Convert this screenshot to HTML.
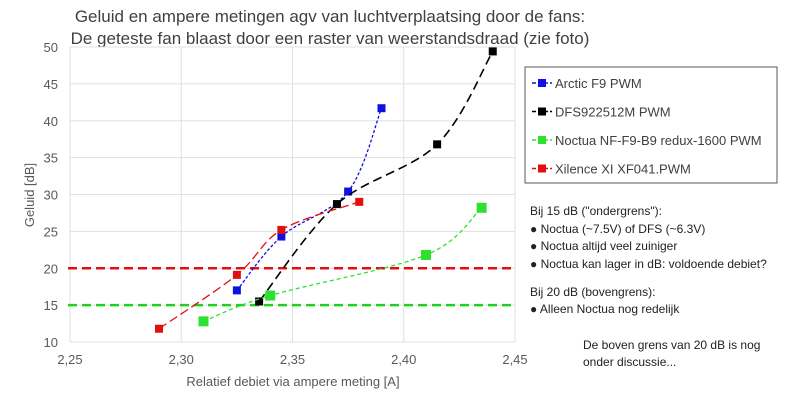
<!DOCTYPE html>
<html><head><meta charset="utf-8"><style>
body{margin:0;background:#fff;font-family:"Liberation Sans",sans-serif;}
svg{display:block}
text{font-family:"Liberation Sans",sans-serif;}
</style></head><body>
<svg id="chart" width="800" height="402" viewBox="0 0 800 402">
<g fill="#404040" font-size="17" text-anchor="middle">
<text x="330" y="22">Geluid en ampere metingen agv van luchtverplaatsing door de fans:</text>
<text x="330" y="44">De geteste fan blaast door een  raster van weerstandsdraad  (zie foto)</text>
</g>
<g id="grid"></g>
<g id="axes"></g>
<g id="series"></g>
<text transform="translate(34,195) rotate(-90)" text-anchor="middle" font-size="13" fill="#595959">Geluid [dB]</text>
<text x="293" y="386" text-anchor="middle" font-size="13" fill="#595959">Relatief debiet via ampere meting [A]</text>
<g>
<rect x="525" y="67" width="252" height="116" fill="#fff" stroke="#595959" stroke-width="1"/>
<g id="legend-items"></g>
</g>
<g font-size="12" fill="#222">
<text x="530" y="215">Bij 15 dB ("ondergrens"):</text>
<text x="530" y="233">● Noctua (~7.5V) of DFS (~6.3V)</text>
<text x="530" y="250">● Noctua altijd veel zuiniger</text>
<text x="530" y="268">● Noctua kan lager in dB: voldoende debiet?</text>
<text x="530" y="296">Bij 20 dB (bovengrens):</text>
<text x="530" y="313">● Alleen Noctua nog redelijk</text>
<text x="583" y="349">De boven grens van 20 dB is nog</text>
<text x="583" y="366">onder discussie...</text>
</g>
</svg>
<script>
const xTicks=[2.25,2.30,2.35,2.40,2.45];
const xTickLabels=["2,25","2,30","2,35","2,40","2,45"];
const yTicks=[10,15,20,25,30,35,40,45,50];
const seriesNames=["Arctic F9 PWM","DFS922512M PWM","Noctua NF-F9-B9 redux-1600 PWM","Xilence XI XF041.PWM"];
const arcticX=[2.325,2.345,2.375,2.39];
const arcticY=[17,24.3,30.4,41.7];
const dfsX=[2.335,2.37,2.415,2.44];
const dfsY=[15.5,28.7,36.8,49.4];
const noctuaX=[2.31,2.34,2.41,2.435];
const noctuaY=[12.8,16.3,21.8,28.2];
const xilenceX=[2.29,2.325,2.345,2.38];
const xilenceY=[11.8,19.1,25.2,29];
const refLevels=[20,15];

const NS="http://www.w3.org/2000/svg";
const X0=70,X1=515,Y0=342,Y1=47;
const sx=v=>X0+(v-2.25)/(0.20)*(X1-X0);
const sy=v=>Y0-(v-10)/40*(Y0-Y1);
function mk(tag,attrs,parent){const e=document.createElementNS(NS,tag);for(const k in attrs)e.setAttribute(k,attrs[k]);parent.appendChild(e);return e;}
const grid=document.getElementById('grid'),axes=document.getElementById('axes'),ser=document.getElementById('series');
yTicks.forEach(t=>{
 const l=mk('line',{x1:X0,x2:X1,y1:sy(t),y2:sy(t),stroke:'#e0e0e0','stroke-width':1},grid);
 
 
 const tx=mk('text',{x:X0-12,y:sy(t)+5,'text-anchor':'end','font-size':13,fill:'#595959'},axes);
 tx.textContent=t;
 
 
});
xTicks.forEach((t,i)=>{
 const l=mk('line',{x1:sx(t),x2:sx(t),y1:Y1,y2:Y0,stroke:'#e0e0e0','stroke-width':1},grid);
 
 
 const tx=mk('text',{x:sx(t),y:Y0+22,'text-anchor':'middle','font-size':13,fill:'#595959'},axes);
 tx.textContent=xTickLabels[i];
 
 
});
const refColors=['#e01010','#20d020'];
refLevels.forEach((v,i)=>{
 const l=mk('line',{x1:X0-2,x2:X1-2,y1:sy(v),y2:sy(v),stroke:refColors[i],'stroke-width':2.5,'stroke-dasharray':'9,5'},ser);
 
 
});
function smooth(pts){
 let d=`M${pts[0][0]},${pts[0][1]}`;
 for(let i=0;i<pts.length-1;i++){
  const p0=pts[Math.max(0,i-1)],p1=pts[i],p2=pts[i+1],p3=pts[Math.min(pts.length-1,i+2)];
  const c1=[p1[0]+(p2[0]-p0[0])/6,p1[1]+(p2[1]-p0[1])/6];
  const c2=[p2[0]-(p3[0]-p1[0])/6,p2[1]-(p3[1]-p1[1])/6];
  d+=` C${c1[0]},${c1[1]} ${c2[0]},${c2[1]} ${p2[0]},${p2[1]}`;
 }
 return d;
}
const all=[[arcticX,arcticY,'#1010e0','3,2',1.3,8],[dfsX,dfsY,'#000','9,5',1.6,8],[noctuaX,noctuaY,'#30e030','4,3',1.3,10],[xilenceX,xilenceY,'#e01010','9,4',1.3,8]];
const ids=['arctic','dfs','noctua','xilence'];
all.forEach((s,k)=>{
 const pts=s[0].map((x,i)=>[sx(x),sy(s[1][i])]);
 const p=mk('path',{d:smooth(pts),fill:'none',stroke:s[2],'stroke-width':s[4],'stroke-dasharray':s[3]},ser);
 
 
 pts.forEach(q=>{
  const r=mk('rect',{x:q[0]-s[5]/2,y:q[1]-s[5]/2,width:s[5],height:s[5],fill:s[2]},ser);
  
  
 });
});
const li=document.getElementById('legend-items');
seriesNames.forEach((n,i)=>{
 const y=83+i*28.5, c=all[i][2];
 const l=mk('line',{x1:532,x2:552,y1:y,y2:y,stroke:c,'stroke-width':1.5,'stroke-dasharray':'4,2'},li);
 
 
 const r=mk('rect',{x:538,y:y-4,width:8,height:8,fill:c},li);
 
 
 const t=mk('text',{x:555,y:y+5,'font-size':13,fill:'#404040'},li);
 t.textContent=n;
 
 
});
</script>
</body></html>
